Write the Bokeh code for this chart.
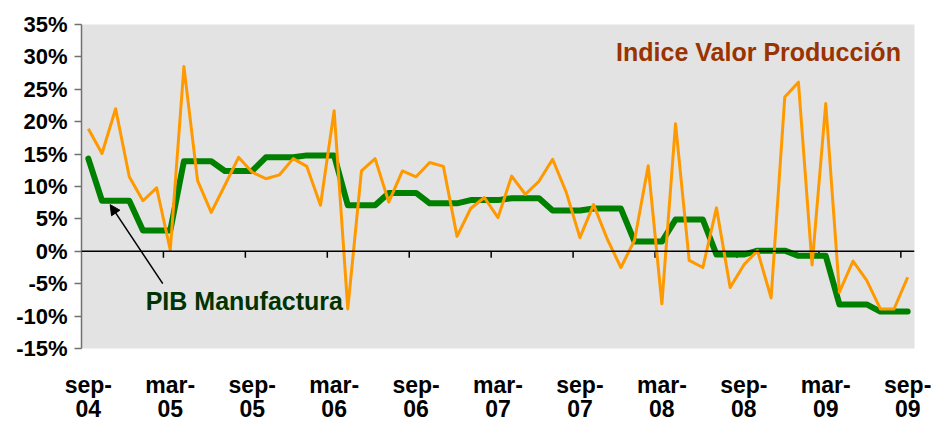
from bokeh.plotting import figure
from bokeh.layouts import column
from bokeh.models import Range1d, FixedTicker, PrintfTickFormatter, Span, Label, Arrow, NormalHead, ColumnDataSource
from bokeh.core.properties import value
from bokeh.embed import file_html
from bokeh.resources import INLINE

# ---- data ----
month_names = ["sep", "oct", "nov", "dic", "ene", "feb", "mar", "abr", "may", "jun", "jul", "ago"]
start_years = ["04", "04", "04", "04", "05", "05", "05", "05", "05", "05", "05", "05"]
categories = []
for k in range(61):
    m = month_names[k % 12]
    yr = int(start_years[k % 12]) + k // 12
    categories.append(f"{m}-{yr:02d}")

indice_valor_produccion = [
    18.9, 15.1, 22.0, 11.5, 7.8, 9.8, 0.2, 28.5, 10.9, 6.0,
    10.2, 14.5, 12.2, 11.2, 11.8, 14.3, 13.1, 7.1, 21.7, -8.9,
    12.4, 14.3, 7.6, 12.4, 11.5, 13.7, 13.1, 2.3, 6.6, 8.3,
    5.2, 11.6, 8.8, 10.8, 14.2, 9.1, 2.1, 7.2, 1.9, -2.5,
    1.7, 13.2, -8.1, 19.7, -1.4, -2.5, 6.7, -5.6, -2.1, 0.1,
    -7.2, 23.8, 26.1, -2.1, 22.8, -6.3, -1.5, -4.5, -8.9, -8.9,
    -4.0,
]
pib_manufactura = [
    14.3, 7.8, 7.8, 7.8, 3.2, 3.2, 3.2, 13.9, 13.9, 13.9,
    12.4, 12.4, 12.4, 14.5, 14.5, 14.5, 14.8, 14.8, 14.8, 7.1,
    7.1, 7.1, 9.0, 9.0, 9.0, 7.4, 7.4, 7.4, 7.9, 7.9,
    7.9, 8.2, 8.2, 8.2, 6.3, 6.3, 6.3, 6.6, 6.6, 6.6,
    1.5, 1.5, 1.5, 4.9, 4.9, 4.9, -0.5, -0.5, -0.5, 0.1,
    0.1, 0.1, -0.7, -0.7, -0.7, -8.2, -8.2, -8.2, -9.3, -9.3,
    -9.3,
]
y_ticks = [-15, -10, -5, 0, 5, 10, 15, 20, 25, 30, 35]
label_every = 6

# ---- layout constants ----
FONT = "Liberation Sans"
n = len(categories)
xs = list(range(n))
W = 936
Y0, Y1 = -15, 35
TOP, LEFT, RIGHT = 24, 81, 22
H_MAIN = 360
BOTTOM_MAIN = 12
H_LAB = 421 - H_MAIN
frame_w = W - LEFT - RIGHT
px_per_cat = frame_w / n

# ---- main chart ----
p = figure(width=W, height=H_MAIN, output_backend="svg", toolbar_location=None, title=None,
           x_range=Range1d(-0.5, n - 0.5), y_range=Range1d(Y0, Y1),
           min_border_left=LEFT, min_border_right=RIGHT, min_border_top=TOP,
           min_border_bottom=BOTTOM_MAIN, frame_align=False)
p.background_fill_color = "#e3e3e3"
p.border_fill_color = "white"
p.outline_line_color = None
p.xgrid.visible = False
p.ygrid.visible = False

p.yaxis.ticker = FixedTicker(ticks=y_ticks)
p.yaxis.formatter = PrintfTickFormatter(format="%d%%")
p.yaxis.axis_line_color = "#707070"
p.yaxis.axis_line_width = 1.5
p.yaxis.major_tick_line_color = "#707070"
p.yaxis.major_tick_line_width = 1.5
p.yaxis.major_tick_in = 0
p.yaxis.major_tick_out = 7
p.yaxis.minor_tick_line_color = None
p.yaxis.major_label_standoff = 7
p.yaxis.major_label_text_font = FONT
p.yaxis.major_label_text_font_style = "bold"
p.yaxis.major_label_text_font_size = "22px"
p.yaxis.major_label_text_color = "black"
p.xaxis.visible = False

# zero line with category tick marks
label_pos = xs[::label_every]
p.add_layout(Span(location=0, dimension="width", line_color="black", line_width=1.5))
bounds = [i - 0.5 for i in label_pos if i > 0]
p.segment(x0=bounds, y0=[0] * len(bounds), x1=bounds, y1=[-1.0] * len(bounds),
          line_color="black", line_width=1.5)

src = ColumnDataSource(dict(x=xs, ivp=indice_valor_produccion, pib=pib_manufactura))
p.line("x", "pib", source=src, line_color="#008000", line_width=6, line_join="round", line_cap="round")
p.line("x", "ivp", source=src, line_color="#FF9900", line_width=3, line_join="round")

p.add_layout(Label(x=38.65, y=30.7, text="Indice Valor Producción", text_color="#993300",
                   text_font=FONT, text_font_style="bold", text_font_size="25px",
                   text_baseline="alphabetic"))
p.add_layout(Label(x=4.2, y=-7.6, text="PIB Manufactura", text_color="#003300",
                   text_font=FONT, text_font_style="bold", text_font_size="25px",
                   text_baseline="alphabetic"))
p.add_layout(Arrow(end=NormalHead(size=10, fill_color="black", line_color="black"),
                   x_start=5.45, y_start=-5.0, x_end=1.6, y_end=7.2,
                   line_color="black", line_width=1.5))

# ---- category label strip (low position), same category scale ----
q = figure(width=W, height=H_LAB, output_backend="svg", toolbar_location=None, title=None,
           x_range=Range1d(-0.5 - LEFT / px_per_cat, n - 0.5 + RIGHT / px_per_cat),
           y_range=Range1d(H_LAB, 0),
           min_border_left=0, min_border_right=0, min_border_top=0, min_border_bottom=0,
           frame_align=False)
q.axis.visible = False
q.grid.visible = False
q.outline_line_color = None
q.background_fill_color = "white"
q.border_fill_color = "white"

top_lines = [categories[i].split("-")[0] + "-" for i in label_pos]
bot_lines = [categories[i].split("-")[1] for i in label_pos]
lab_src = ColumnDataSource(dict(x=label_pos, t1=top_lines, t2=bot_lines,
                                y1=[24] * len(label_pos), y2=[48] * len(label_pos)))
for tcol, ycol in (("t1", "y1"), ("t2", "y2")):
    q.text(x="x", y=ycol, text=tcol, source=lab_src, text_align="center", text_baseline="alphabetic",
           text_font=value(FONT), text_font_style="bold", text_font_size="23px", text_color="black")

layout = column(p, q, spacing=0)
open("out.html", "w").write(file_html(layout, INLINE))
